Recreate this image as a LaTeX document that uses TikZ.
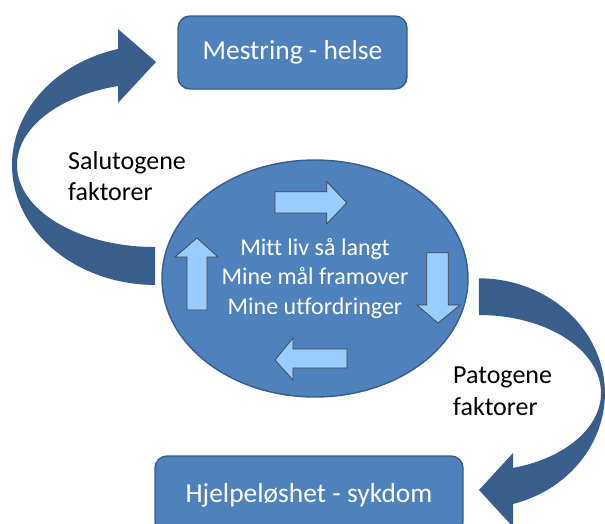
\documentclass[tikz,border=0pt]{standalone}
\usepackage{fontspec}
\setmainfont{Carlito}[Ligatures={NoCommon}]
\usetikzlibrary{shapes.geometric}
\definecolor{boxfill}{HTML}{4F81BD}
\definecolor{boxline}{HTML}{385D8A}
\definecolor{bigarr}{HTML}{3A5E8B}
\definecolor{smallfill}{HTML}{99CCFF}
\definecolor{smallline}{HTML}{404040}
\tikzset{
  box/.style={draw=boxline, line width=1.4pt, fill=boxfill, rounded corners=12pt,
    text=white, font=\fontsize{27.5}{33}\selectfont, inner sep=0pt},
  mid/.style={ellipse, draw=boxline, line width=1.4pt, fill=boxfill, text=white,
    font=\fontsize{24}{29.3}\selectfont, align=center, inner sep=0pt},
  lbl/.style={font=\fontsize{26}{31.5}\selectfont, align=left, inner sep=0pt, anchor=west},
  bigarrow/.style={fill=bigarr},
  smallarrow/.style={fill=smallfill, draw=smallline, line width=0.7pt, line join=miter}
}
\begin{document}
\begin{tikzpicture}[x=1pt,y=-1pt]
\useasboundingbox (0,0) rectangle (605,523);
\begin{scope}
\clip (0,0) rectangle (605,523);
% big curved arrows
\fill[bigarrow] (155,247) arc[start angle=90, end angle=254.5, x radius=138, y radius=82]
  -- (118,103) -- (156,62) -- (118,29) -- (118,49)
  arc[start angle=255, end angle=90, x radius=143, y radius=120] -- cycle;
\fill[bigarrow] (479,315) arc[start angle=270, end angle=433.8, x radius=122, y radius=78]
  -- (513,453) -- (479,490) -- (513,527) -- (513,504)
  arc[start angle=434.3, end angle=270, x radius=126, y radius=115] -- cycle;
% boxes
\node[box, minimum width=229pt, minimum height=73pt] (top) at (292.5,52.5) {Mestring - helse};
\node[box, minimum width=308pt, minimum height=78pt] (bottom) at (309,495) {Hjelpeløshet - sykdom};
% ellipse
\node[mid, minimum width=306pt, minimum height=237pt] (life) at (315,278.5)
  {Mitt liv så langt\\Mine mål framover\\Mine utfordringer};
% small arrows
\draw[smallarrow] (275,191.7) -- (326.7,191.7) -- (326.7,181.7) -- (346.7,202.7)
  -- (326.7,224) -- (326.7,213) -- (275,213) -- cycle;
\draw[smallarrow] (426.7,252.7) -- (448.3,252.7) -- (448.3,305) -- (460,305)
  -- (438,323) -- (417,305) -- (426.7,305) -- cycle;
\draw[smallarrow] (347,349) -- (293,349) -- (293,338) -- (275,360)
  -- (293,380) -- (293,368) -- (347,368) -- cycle;
\draw[smallarrow] (187,310) -- (187,257) -- (175,257) -- (197,238)
  -- (218,257) -- (207,257) -- (207,310) -- cycle;
% labels
\node[lbl] (salu) at (68,176) {Salutogene\\faktorer};
\node[lbl] (pato) at (453,391) {Patogene\\faktorer};
\end{scope}
\end{tikzpicture}
\end{document}
